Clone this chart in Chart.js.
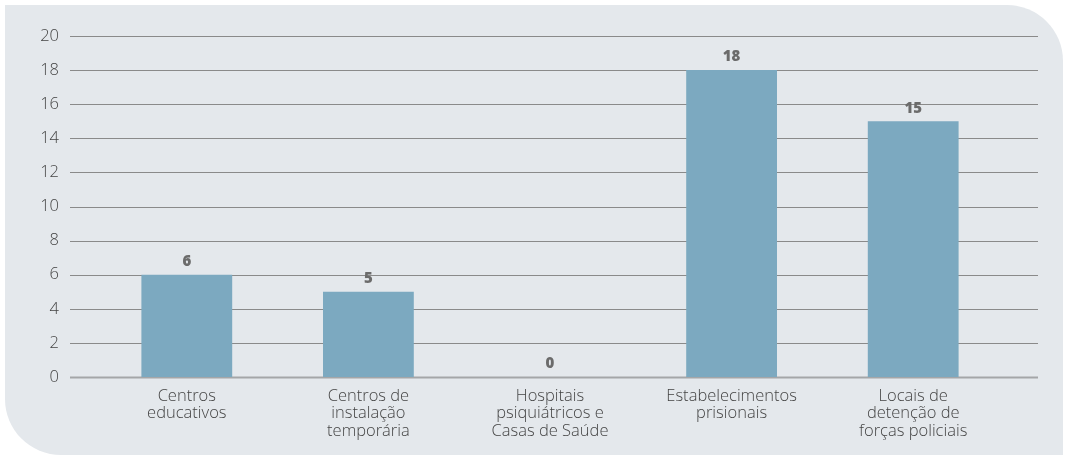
<!DOCTYPE html>
<html>
<head>
<meta charset="utf-8">
<script src="https://cdn.jsdelivr.net/npm/chart.js@4.4.1/dist/chart.umd.min.js"></script>
<style>
  html, body { margin: 0; padding: 0; background: #fff; }
  #wrap { position: relative; width: 1065px; height: 456px; }
  #panel {
    position: absolute; left: 5px; top: 5px; right: 2px; bottom: 1px;
    background: #e4e8ec;
    border-radius: 0 56px 0 56px;
  }
  canvas { position: absolute; left: 0; top: 0; }
</style>
</head>
<body>
<div id="wrap">
  <div id="panel"></div>
  <canvas id="chart" width="1065" height="456"></canvas>
</div>
<script>
// data
const categories = [
  ["Centros", "educativos"],
  ["Centros de", "instalação", "temporária"],
  ["Hospitais", "psiquiátricos e", "Casas de Saúde"],
  ["Estabelecimentos", "prisionais"],
  ["Locais de", "detenção de", "forças policiais"],
];
const values = [6, 5, 0, 18, 15];
const yTicks = [0, 2, 4, 6, 8, 10, 12, 14, 16, 18, 20];

const FONT = "'Open Sans', 'Noto Sans', sans-serif";

// grid lines run wider than the bar area, so draw them by hand
const gridLines = {
  id: "gridLines",
  beforeDatasetsDraw(chart) {
    const { ctx, chartArea, scales } = chart;
    ctx.save();
    yTicks.forEach((t) => {
      const y = Math.round(scales.y.getPixelForValue(t)) + 0.5;
      ctx.beginPath();
      ctx.strokeStyle = t === 0 ? "#a4a6a8" : "#8a8a8a";
      ctx.lineWidth = t === 0 ? 2 : 1;
      ctx.moveTo(chartArea.left - 26, y);
      ctx.lineTo(chartArea.right + 34, y);
      ctx.stroke();
    });
    ctx.restore();
  },
};

// value labels above bars
const valueLabels = {
  id: "valueLabels",
  afterDatasetsDraw(chart) {
    const { ctx } = chart;
    const meta = chart.getDatasetMeta(0);
    ctx.save();
    ctx.font = "800 15px " + FONT;
    ctx.fillStyle = "#6b6b6b";
    ctx.textAlign = "center";
    ctx.textBaseline = "middle";
    meta.data.forEach((bar, i) => {
      ctx.fillText(String(values[i]), bar.x, bar.y - 13);
    });
    ctx.restore();
  },
};

new Chart(document.getElementById("chart"), {
  type: "bar",
  data: {
    labels: categories,
    datasets: [{
      data: values,
      backgroundColor: "#7ca9c0",
      barPercentage: 0.5,
      categoryPercentage: 1,
    }],
  },
  options: {
    responsive: false,
    animation: false,
    layout: { padding: { left: 40, right: 61, top: 36, bottom: 0 } },
    plugins: { legend: { display: false }, tooltip: { enabled: false } },
    scales: {
      x: {
        grid: { display: false, drawTicks: false },
        border: { display: false },
        ticks: {
          color: "#444",
          padding: 11,
          maxRotation: 0,
          autoSkip: false,
          font: { family: FONT, size: 16.5, weight: 300, lineHeight: 1.04 },
        },
        afterFit(s) {
          s.height = 79;
          s.paddingTop = 0; s.paddingBottom = 0;
        },
      },
      y: {
        min: 0,
        max: 20,
        afterBuildTicks(s) { s.ticks = yTicks.map((v) => ({ value: v })); },
        grid: { display: false, drawTicks: false },
        border: { display: false },
        ticks: {
          color: "#444",
          padding: 37,
          font: { family: FONT, size: 16.5, weight: 300 },
        },
        afterFit(s) {
          s.width = 56;
          s.paddingTop = 0; s.paddingBottom = 0;
        },
      },
    },
  },
  plugins: [gridLines, valueLabels],
});
</script>
</body>
</html>
